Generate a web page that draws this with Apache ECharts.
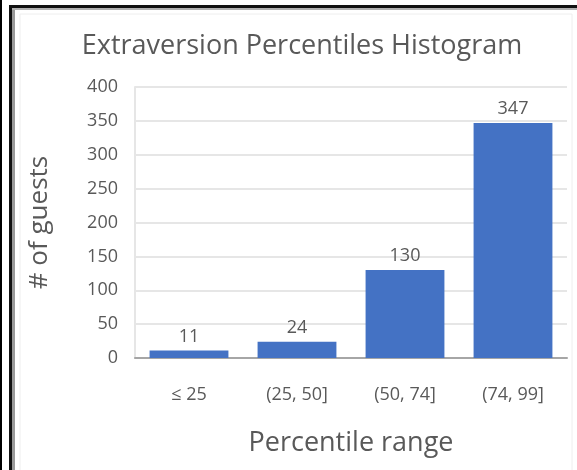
<!DOCTYPE html>
<html>
<head>
<meta charset="utf-8">
<script src="https://cdn.jsdelivr.net/npm/echarts@6/dist/echarts.min.js"></script>
<style>
  html, body { margin: 0; padding: 0; background: #fff; }
  #chart { width: 577px; height: 470px; }
</style>
</head>
<body>
<div id="chart"></div>
<script>
// Percentile buckets and guest counts
const categories = ['≤ 25', '(25, 50]', '(50, 74]', '(74, 99]'];
const guestCounts = [11, 24, 130, 347];
const yTicks = [0, 50, 100, 150, 200, 250, 300, 350, 400];

const textGray = '#595959';
const fontFamily = '"Open Sans", sans-serif';

const chart = echarts.init(document.getElementById('chart'), null, { renderer: 'canvas' });

chart.setOption({
  backgroundColor: '#ffffff',
  animation: false,
  title: {
    text: 'Extraversion Percentiles Histogram',
    left: 297,
    top: 28,
    textAlign: 'center',
    textStyle: { color: textGray, fontFamily, fontSize: 27, fontWeight: 'normal' }
  },
  grid: { left: 135, right: 10, top: 87, bottom: 112 },
  xAxis: {
    type: 'category',
    data: categories,
    name: 'Percentile range',
    nameLocation: 'middle',
    nameGap: 72,
    nameTextStyle: { color: textGray, fontFamily, fontSize: 27 },
    axisLine: { lineStyle: { color: '#a6a6a6', width: 2 } },
    axisTick: { show: false },
    axisLabel: { color: textGray, fontFamily, fontSize: 18, margin: 28 }
  },
  yAxis: {
    type: 'value',
    min: yTicks[0],
    max: yTicks[yTicks.length - 1],
    interval: yTicks[1] - yTicks[0],
    name: '# of guests',
    nameLocation: 'middle',
    nameGap: 82,
    nameTextStyle: { color: textGray, fontFamily, fontSize: 26 },
    axisLine: { show: true, lineStyle: { color: '#e6e6e6', width: 2 } },
    axisTick: { show: false },
    axisLabel: { color: textGray, fontFamily, fontSize: 18, margin: 17 },
    splitLine: { lineStyle: { color: '#e6e6e6', width: 2 } }
  },
  series: [{
    type: 'bar',
    data: guestCounts,
    barCategoryGap: '27%',
    itemStyle: { color: '#4472c4' },
    label: {
      show: true,
      position: 'top',
      distance: 5,
      color: textGray,
      fontFamily,
      fontSize: 18
    }
  }],
  graphic: [
    // outer frame strokes
    { type: 'rect', shape: { x: 0, y: 0, width: 2, height: 470 }, style: { fill: '#000' }, silent: true },
    { type: 'rect', shape: { x: 9, y: 5, width: 3, height: 465 }, style: { fill: '#111' }, silent: true },
    { type: 'rect', shape: { x: 9, y: 5, width: 568, height: 3 }, style: { fill: '#111' }, silent: true },
    // chart area border
    { type: 'rect', shape: { x: 12, y: 8, width: 3, height: 462 }, style: { fill: '#9a9a9a' }, silent: true },
    { type: 'rect', shape: { x: 12, y: 8, width: 565, height: 2 }, style: { fill: '#b0b0b0' }, silent: true },
    { type: 'rect', shape: { x: 20, y: 14, width: 552, height: 470 }, style: { fill: 'none', stroke: '#eeeeee', lineWidth: 1 }, silent: true }
  ]
});
</script>
</body>
</html>
